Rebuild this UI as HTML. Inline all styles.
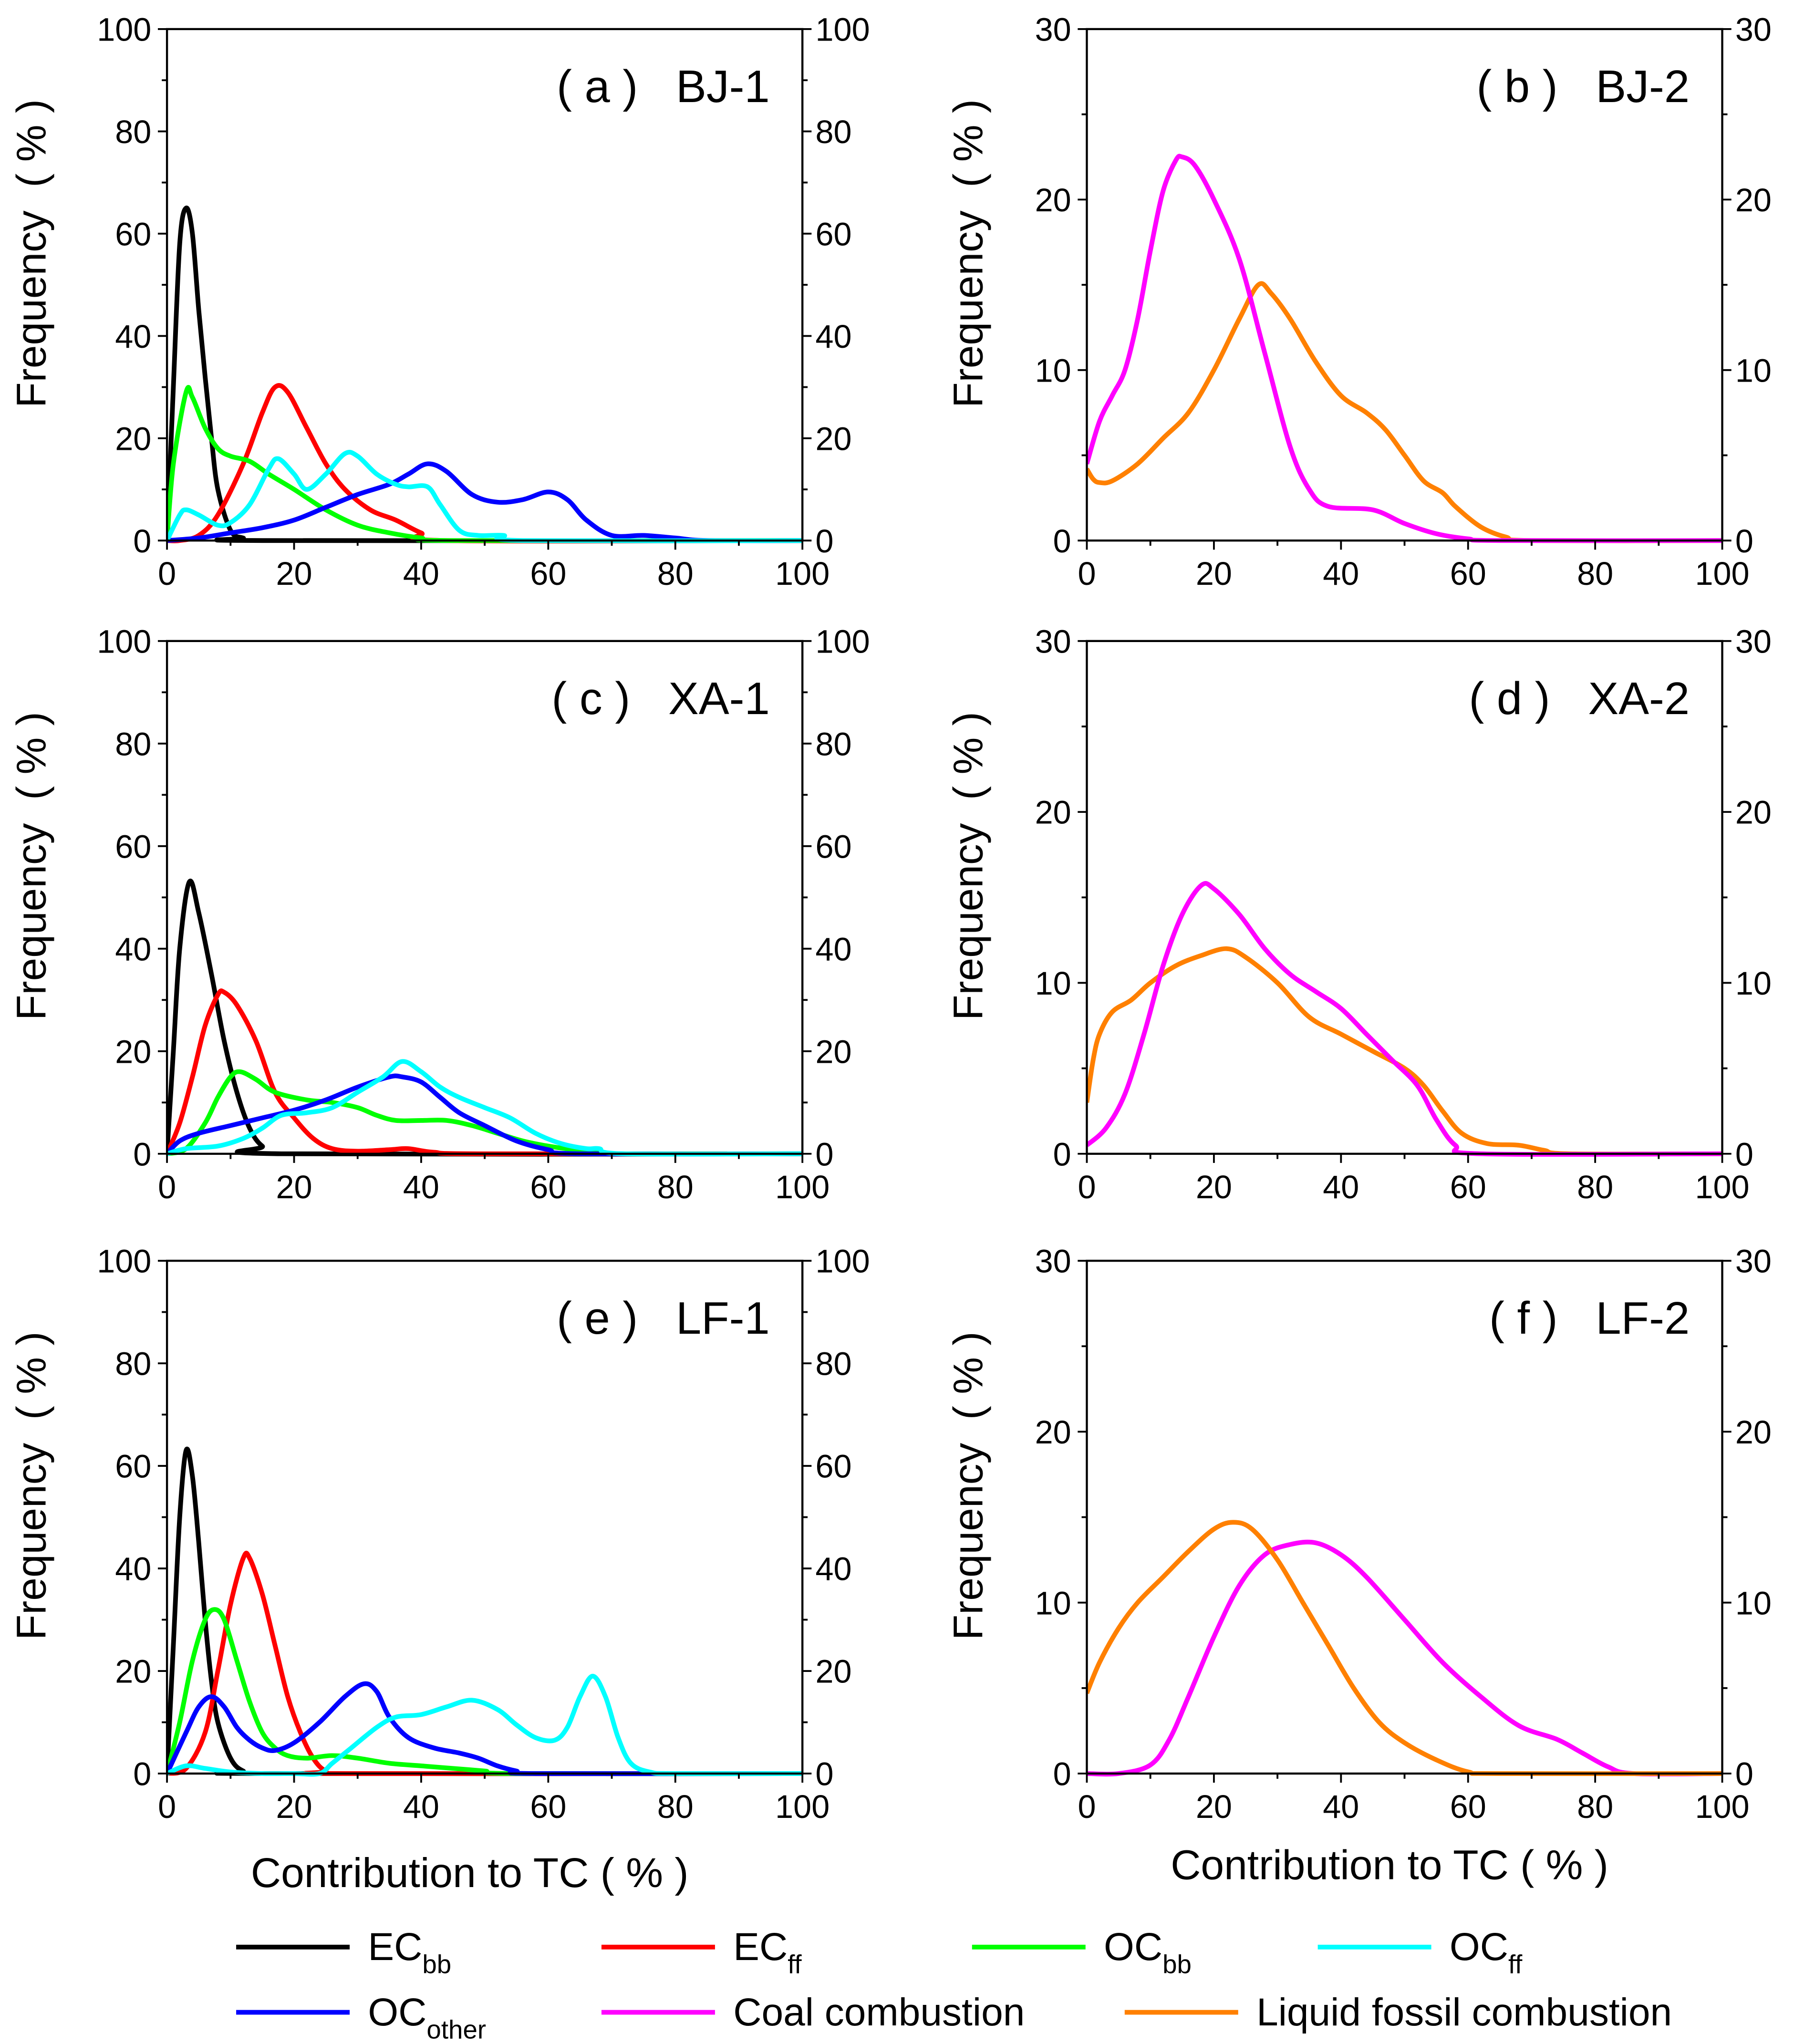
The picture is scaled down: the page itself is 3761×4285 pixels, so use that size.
<!DOCTYPE html>
<html><head><meta charset="utf-8"><style>
html,body{margin:0;padding:0;background:#fff;}
svg{display:block;}
text{font-family:"Liberation Sans","Noto Sans CJK SC",sans-serif;fill:#000;white-space:pre;}
</style></head><body>
<svg id="chart" xmlns="http://www.w3.org/2000/svg" width="3761" height="4285" viewBox="0 0 1375 1566">
<rect width="1375" height="1566" fill="#fff"/>
</svg>
<script>
// ---- Data (x = contribution to TC %, y = frequency %) ----
const xTicks = [0,20,40,60,80,100];
const yTicksLeft = [0,20,40,60,80,100];
const yTicksRight = [0,10,20,30];
const panelTitles = ["( a )   BJ-1","( b )   BJ-2","( c )   XA-1","( d )   XA-2","( e )   LF-1","( f )   LF-2"];
const seriesNames = ["ECbb","ECff","OCbb","OCff","OCother","Coal combustion","Liquid fossil combustion"];

const aECbbX=[0,1,2,3,4,5,6,7,8,10,12,15,100];
const aECbbY=[0,30,58,65,60,45,32,20,10,2,0.5,0,0];
const aECffX=[0,2,5,8,12,15,17,19,22,25,28,32,36,40,44,100];
const aECffY=[0,0,1,5,15,25,30,29,22,15,10,6,4,1.5,0,0];
const aOCbbX=[0,1,3,4,6,8,10,13,16,20,25,30,35,40,45,100];
const aOCbbY=[0,15,29,28,22,18,16.5,15.5,13,10,6,3,1.5,0.5,0,0];
const aOCffX=[0,2,3,5,8,10,13,16,17.5,20,22,25,28,30,33,36,38,41,43,46,49,53,56,100];
const aOCffY=[0,5,6,5,3,3.5,7,14,16,13,10,13,17,16.5,13,11,10.5,10.5,7,2,1,1,0,0];
const aOCoX=[0,5,10,15,20,25,30,35,38,41,44,48,52,56,60,63,66,70,75,80,85,100];
const aOCoY=[0,0.5,1.5,2.5,4,6.5,9,11,13,15,13.5,9,7.5,8,9.5,8,4,1,1,0.5,0,0];

const bCoalX=[0,2,4,6,8,10,12,14,15,17,20,24,28,32,35,38,45,50,55,60,65,100];
const bCoalY=[4.5,7,8.5,10,13,17,20.5,22.3,22.5,22,20,16.5,11,5.5,3,2,1.8,1,0.4,0.1,0,0];
const bLiqX=[0,1,2,4,8,12,16,20,24,27,29,32,36,40,44,47,50,53,56,58,62,66,70,100];
const bLiqY=[4.2,3.6,3.4,3.5,4.5,6,7.5,10,13,15,14.5,13,10.5,8.5,7.5,6.5,5,3.5,2.8,2,0.8,0.2,0,0];

const cECbbX=[0,1,2,3.5,5,7,9,11,13,15,18,100];
const cECbbY=[0,20,40,53,47,35,22,12,5,1.5,0,0];
const cECffX=[0,2,4,6,8,9,11,14,17,20,23,26,30,35,38,42,50,100];
const cECffY=[0,6,15,25,31,31.5,29,22,12,7,3,1,0.5,0.8,1,0.3,0,0];
const cOCbbX=[0,3,6,8,10,11.5,14,17,22,26,30,33,36,40,44,48,52,56,60,64,68,72,100];
const cOCbbY=[0,1,6,11,15,16,14.5,12,10.5,10,9,7.5,6.5,6.5,6.5,5.5,4,2.5,1.5,0.8,0.3,0,0];
const cOCffX=[0,3,8,12,15,18,22,26,30,34,37,40,43,46,50,54,58,62,66,68,72,100];
const cOCffY=[0,1,1.5,3,5,7.5,8,9,12,15,18,16,13,11,9,7,4,2,1,1,0,0];
const cOCoX=[0,2,5,10,15,20,25,30,35,37,40,43,46,50,55,60,65,100];
const cOCoY=[0,2.5,4,5.5,7,8.5,10.5,13,15,15,14,11,8,5.5,2.5,0.8,0,0];

const dCoalX=[0,3,6,9,12,15,18,20,24,28,32,36,40,44,48,52,55,58,62,100];
const dCoalY=[0.5,1.5,3.5,7,11,14,15.7,15.5,14,12,10.5,9.5,8.5,7,5.5,4,2,0.5,0,0];
const dLiqX=[0,1,2,4,7,10,14,18,22,25,30,35,40,45,50,53,56,59,63,68,72,76,100];
const dLiqY=[3,5.5,7,8.3,9,10,11,11.6,12,11.5,10,8,7,6,5,4,2.5,1.2,0.6,0.5,0.2,0,0];

const eECbbX=[0,1,2,3,4,5,6,7,8,10,12,15,100];
const eECbbY=[0,25,50,63,58,45,30,18,10,3,0.5,0,0];
const eECffX=[0,3,6,8,10,12,13,15,17,19,21,23,25,28,100];
const eECffY=[0,1,8,20,33,42,42,35,25,15,8,3,0.5,0,0];
const eOCbbX=[0,2,4,6,7.5,9,11,13,15,17,19,22,26,30,35,40,45,50,55,100];
const eOCbbY=[0,10,22,30,32,30,22,14,8,5,3.5,3,3.5,3,2,1.5,1,0.5,0,0];
const eOCffX=[0,3,6,10,15,20,24,26,29,33,36,40,44,48,52,55,58,61,63,65,67,69,71,73,76,80,100];
const eOCffY=[0,1.5,1,0.3,0,0,0,2,5,9,11,11.5,13,14.3,12.5,9.5,7,6.5,9,15,19,15,7,2,0.3,0,0];
const eOCoX=[0,3,5,7,9,11,13,15,17,20,24,28,31,33,35,38,42,46,49,52,55,58,100];
const eOCoY=[0,8,13,15,13,9,6.5,5,4.5,6,10,15,17.5,16,11,7,5,4,3,1.5,0.5,0,0];

const fCoalX=[0,5,10,13,16,20,24,28,32,36,40,44,50,56,62,68,74,78,82,86,100];
const fCoalY=[0,0,0.5,2,4.5,8,11,12.8,13.4,13.5,12.8,11.5,9,6.5,4.5,2.8,2,1.2,0.4,0,0];
const fLiqX=[0,2,5,8,12,16,20,23,26,30,34,38,42,46,50,55,60,65,100];
const fLiqY=[4.7,6.5,8.5,10,11.5,13,14.3,14.7,14.3,12.5,10,7.5,5,3,1.8,0.8,0.1,0,0];

// ---- Layout ----
const NS="http://www.w3.org/2000/svg";
const svg=document.getElementById('chart');
const rows=[{top:22,bot:414},{top:491,bot:884},{top:966,bot:1359}];
const cols=[{l:128,r:615,max:100,ticks:yTicksLeft},{l:833,r:1320,max:30,ticks:yTicksRight}];
const colors={ECbb:"#000",ECff:"#f00",OCbb:"#0f0",OCff:"#0ff",OCother:"#00f",Coal:"#f0f",Liq:"#ff8000"};
const panelSeries=[
 [["ECbb",aECbbX,aECbbY],["ECff",aECffX,aECffY],["OCbb",aOCbbX,aOCbbY],["OCother",aOCoX,aOCoY],["OCff",aOCffX,aOCffY]],
 [["Liq",bLiqX,bLiqY],["Coal",bCoalX,bCoalY]],
 [["ECbb",cECbbX,cECbbY],["ECff",cECffX,cECffY],["OCbb",cOCbbX,cOCbbY],["OCother",cOCoX,cOCoY],["OCff",cOCffX,cOCffY]],
 [["Liq",dLiqX,dLiqY],["Coal",dCoalX,dCoalY]],
 [["ECbb",eECbbX,eECbbY],["ECff",eECffX,eECffY],["OCbb",eOCbbX,eOCbbY],["OCother",eOCoX,eOCoY],["OCff",eOCffX,eOCffY]],
 [["Coal",fCoalX,fCoalY],["Liq",fLiqX,fLiqY]]
];
function mk(tag,attrs,parent){const e=document.createElementNS(NS,tag);for(const k in attrs)e.setAttribute(k,attrs[k]);(parent||svg).appendChild(e);return e;}
function smoothPath(pts){
 let d=`M${pts[0][0].toFixed(2)},${pts[0][1].toFixed(2)}`;
 for(let i=0;i<pts.length-1;i++){
  const p0=pts[Math.max(0,i-1)],p1=pts[i],p2=pts[i+1],p3=pts[Math.min(pts.length-1,i+2)];
  const c1x=p1[0]+(p2[0]-p0[0])/6,c1y=p1[1]+(p2[1]-p0[1])/6;
  const c2x=p2[0]-(p3[0]-p1[0])/6,c2y=p2[1]-(p3[1]-p1[1])/6;
  d+=` C${c1x.toFixed(2)},${c1y.toFixed(2)} ${c2x.toFixed(2)},${c2y.toFixed(2)} ${p2[0].toFixed(2)},${p2[1].toFixed(2)}`;
 }
 return d;
}
for(let p=0;p<6;p++){
 const R=rows[Math.floor(p/2)],C=cols[p%2];
 const g=mk('g',{});
 
 
 const xs=v=>C.l+(C.r-C.l)*v/100;
 const ys=v=>R.bot-(R.bot-R.top)*v/C.max;
 const cp=mk('clipPath',{id:'clip'+p},g);
 mk('rect',{x:C.l,y:R.top-5,width:C.r-C.l,height:R.bot-R.top+8},cp);
 const sg=mk('g',{'clip-path':`url(#clip${p})`},g);
 panelSeries[p].forEach(s=>{
  const pts=s[1].map((x,i)=>[xs(x),ys(Math.max(0,s[2][i]))]);
  const path=mk('path',{d:smoothPath(pts),fill:'none',stroke:colors[s[0]],'stroke-width':3.6,'stroke-linejoin':'round'},sg);
  
  
 });
 const fr=mk('rect',{x:C.l,y:R.top,width:C.r-C.l,height:R.bot-R.top,fill:'none',stroke:'#000','stroke-width':1.6},g);
 
 
 for(let v=0;v<=100;v+=10){
  const major=v%20===0;
  mk('line',{x1:xs(v),x2:xs(v),y1:R.bot,y2:R.bot+(major?7:4),stroke:'#000','stroke-width':1.4},g);
 }
 xTicks.forEach(v=>{
  const t=mk('text',{x:xs(v),y:R.bot+34,'text-anchor':'middle','font-size':25},g);
  t.textContent=v;
  
  
 });
 const step=C.max===100?10:5;
 for(let v=0;v<=C.max;v+=step){
  const major=C.ticks.includes(v);
  mk('line',{x1:C.l,x2:C.l-(major?7:4),y1:ys(v),y2:ys(v),stroke:'#000','stroke-width':1.4},g);
  mk('line',{x1:C.r,x2:C.r+(major?7:4),y1:ys(v),y2:ys(v),stroke:'#000','stroke-width':1.4},g);
 }
 C.ticks.forEach(v=>{
  const t=mk('text',{x:C.l-12,y:ys(v)+9,'text-anchor':'end','font-size':25},g);
  t.textContent=v;
  
  
  const t2=mk('text',{x:C.r+10,y:ys(v)+9,'text-anchor':'start','font-size':25},g);
  t2.textContent=v;
  
  
 });
 const tt=mk('text',{x:C.r-25,y:R.top+56,'text-anchor':'end','font-size':35},g);
 tt.textContent=panelTitles[p];
 
 
 const yx=C.l-(p%2===0?93:80);
 const yc=(R.top+R.bot)/2-24;
 const yt=mk('text',{x:yx,y:yc,'text-anchor':'middle','font-size':32,transform:`rotate(-90 ${yx} ${yc})`},g);
 yt.textContent='Frequency  ( % )';
 
 
}
[[360,1446],[1065,1440]].forEach(a=>{
 const t=mk('text',{x:a[0],y:a[1],'text-anchor':'middle','font-size':32});
 t.textContent='Contribution to TC ( % )';
 
 
});
const legend=[
 ["ECbb","EC","bb",181,1492],["ECff","EC","ff",461,1492],["OCbb","OC","bb",745,1492],["OCff","OC","ff",1010,1492],
 ["OCother","OC","other",181,1542],["Coal","Coal combustion","",461,1542],["Liq","Liquid fossil combustion","",862,1542]
];
const lg=mk('g',{});


legend.forEach(l=>{
 const e=mk('g',{},lg);
 
 
 mk('line',{x1:l[3],x2:l[3]+87,y1:l[4],y2:l[4],stroke:colors[l[0]],'stroke-width':3.6},e);
 const t=mk('text',{x:l[3]+101,y:l[4]+10,'font-size':30},e);
 t.textContent=l[1];
 if(l[2]){const s=mk('tspan',{'font-size':20,dy:10},t);s.textContent=l[2];}
});
</script>
</body></html>
